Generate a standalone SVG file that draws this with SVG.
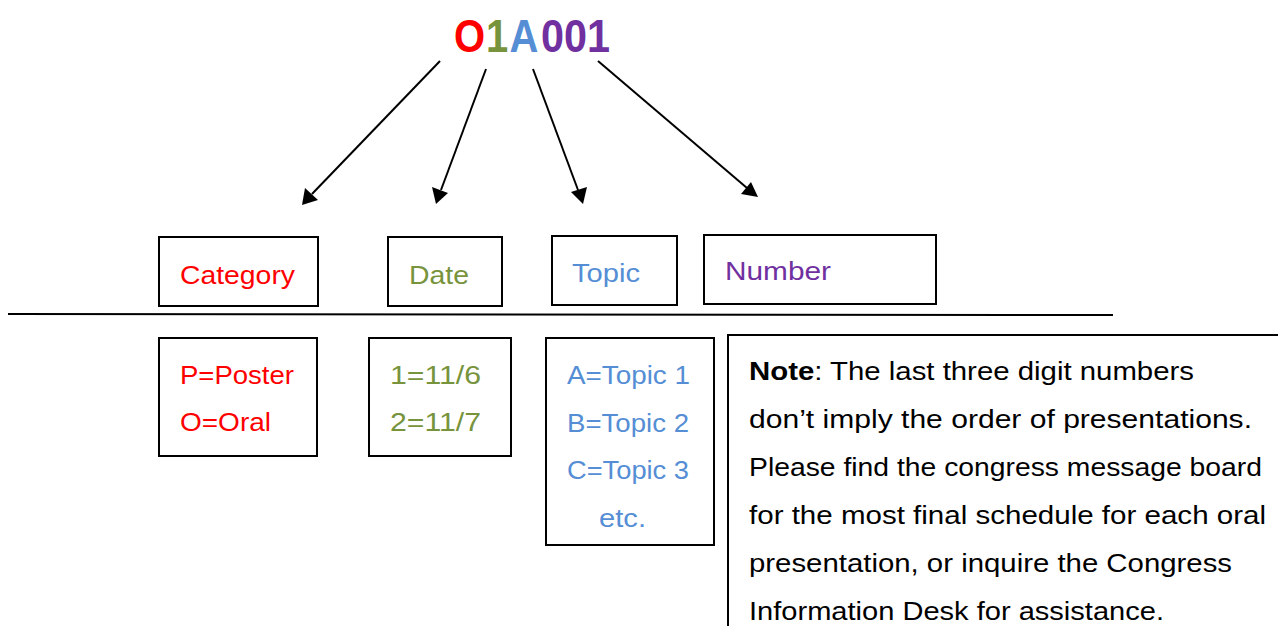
<svg xmlns="http://www.w3.org/2000/svg" width="1278" height="626" viewBox="0 0 1278 626">
<style>
text{font-family:"Liberation Sans","Noto Sans",sans-serif;font-size:25px}
.t{font-size:40px;font-weight:bold}
.box{fill:#fff;stroke:#000;stroke-width:2}
.conn{stroke:#000;stroke-width:2;fill:none}
.r{fill:#FF0000}.g{fill:#77933C}.b{fill:#558ED5}.p{fill:#7030A0}.k{fill:#000}
</style>
<rect width="1278" height="626" fill="#fff"/>
<g id="code" transform="translate(0,52) scale(1,1.15)">
<text class="t r" x="454" y="0">O</text>
<text class="t g" x="486" y="0">1</text>
<text class="t b" x="509.5" y="0">A</text>
<text class="t p" x="541" y="0" textLength="69" lengthAdjust="spacingAndGlyphs">001</text>
</g>
<g id="connectors">
<line class="conn" x1="440" y1="61" x2="312" y2="194"/>
<path d="M302,205 L305,188 L318,200 z" fill="#000"/>
<line class="conn" x1="486" y1="69" x2="441" y2="190"/>
<path d="M436,204 L432,187 L448,193 z" fill="#000"/>
<line class="conn" x1="533" y1="69" x2="578" y2="190"/>
<path d="M583,204 L571,192 L587,187 z" fill="#000"/>
<line class="conn" x1="598" y1="61" x2="747" y2="188"/>
<path d="M758,197 L741,194 L751,182 z" fill="#000"/>
</g>
<line x1="8" y1="314" x2="1113" y2="315" stroke="#000" stroke-width="2"/>
<g id="category">
<rect class="box" x="159" y="237" width="159" height="69"/>
<text class="r" x="180" y="284" textLength="115" lengthAdjust="spacingAndGlyphs">Category</text>
</g>
<g id="date">
<rect class="box" x="388" y="237" width="114" height="69"/>
<text class="g" x="409" y="284" textLength="60" lengthAdjust="spacingAndGlyphs">Date</text>
</g>
<g id="topic">
<rect class="box" x="552" y="236" width="125" height="69"/>
<text class="b" x="572" y="282" textLength="68" lengthAdjust="spacingAndGlyphs">Topic</text>
</g>
<g id="number">
<rect class="box" x="704" y="235" width="232" height="69"/>
<text class="p" x="725" y="280" textLength="106" lengthAdjust="spacingAndGlyphs">Number</text>
</g>
<g id="category-values">
<rect class="box" x="159" y="338" width="158" height="118"/>
<text class="r" x="180" y="384" textLength="114" lengthAdjust="spacingAndGlyphs">P=Poster</text>
<text class="r" x="180" y="431" textLength="91" lengthAdjust="spacingAndGlyphs">O=Oral</text>
</g>
<g id="date-values">
<rect class="box" x="369" y="338" width="142" height="118"/>
<text class="g" x="390" y="384" textLength="91" lengthAdjust="spacingAndGlyphs">1=11/6</text>
<text class="g" x="390" y="431" textLength="91" lengthAdjust="spacingAndGlyphs">2=11/7</text>
</g>
<g id="topic-values">
<rect class="box" x="546" y="338" width="168" height="207"/>
<text class="b" x="567" y="384" textLength="123" lengthAdjust="spacingAndGlyphs">A=Topic 1</text>
<text class="b" x="567" y="432" textLength="122" lengthAdjust="spacingAndGlyphs">B=Topic 2</text>
<text class="b" x="567" y="479" textLength="122" lengthAdjust="spacingAndGlyphs">C=Topic 3</text>
<text class="b" x="599" y="527" textLength="47" lengthAdjust="spacingAndGlyphs">etc.</text>
</g>
<g id="note">
<rect class="box" x="728" y="335" width="560" height="300"/>
<text class="k" x="749" y="380" textLength="445" lengthAdjust="spacingAndGlyphs"><tspan font-weight="bold">Note</tspan>: The last three digit numbers</text>
<text class="k" x="749" y="428" textLength="503" lengthAdjust="spacingAndGlyphs">don’t imply the order of presentations.</text>
<text class="k" x="749" y="476" textLength="513" lengthAdjust="spacingAndGlyphs">Please find the congress message board</text>
<text class="k" x="749" y="524" textLength="517" lengthAdjust="spacingAndGlyphs">for the most final schedule for each oral</text>
<text class="k" x="749" y="572" textLength="483" lengthAdjust="spacingAndGlyphs">presentation, or inquire the Congress</text>
<text class="k" x="749" y="620" textLength="415" lengthAdjust="spacingAndGlyphs">Information Desk for assistance.</text>
</g>
</svg>
